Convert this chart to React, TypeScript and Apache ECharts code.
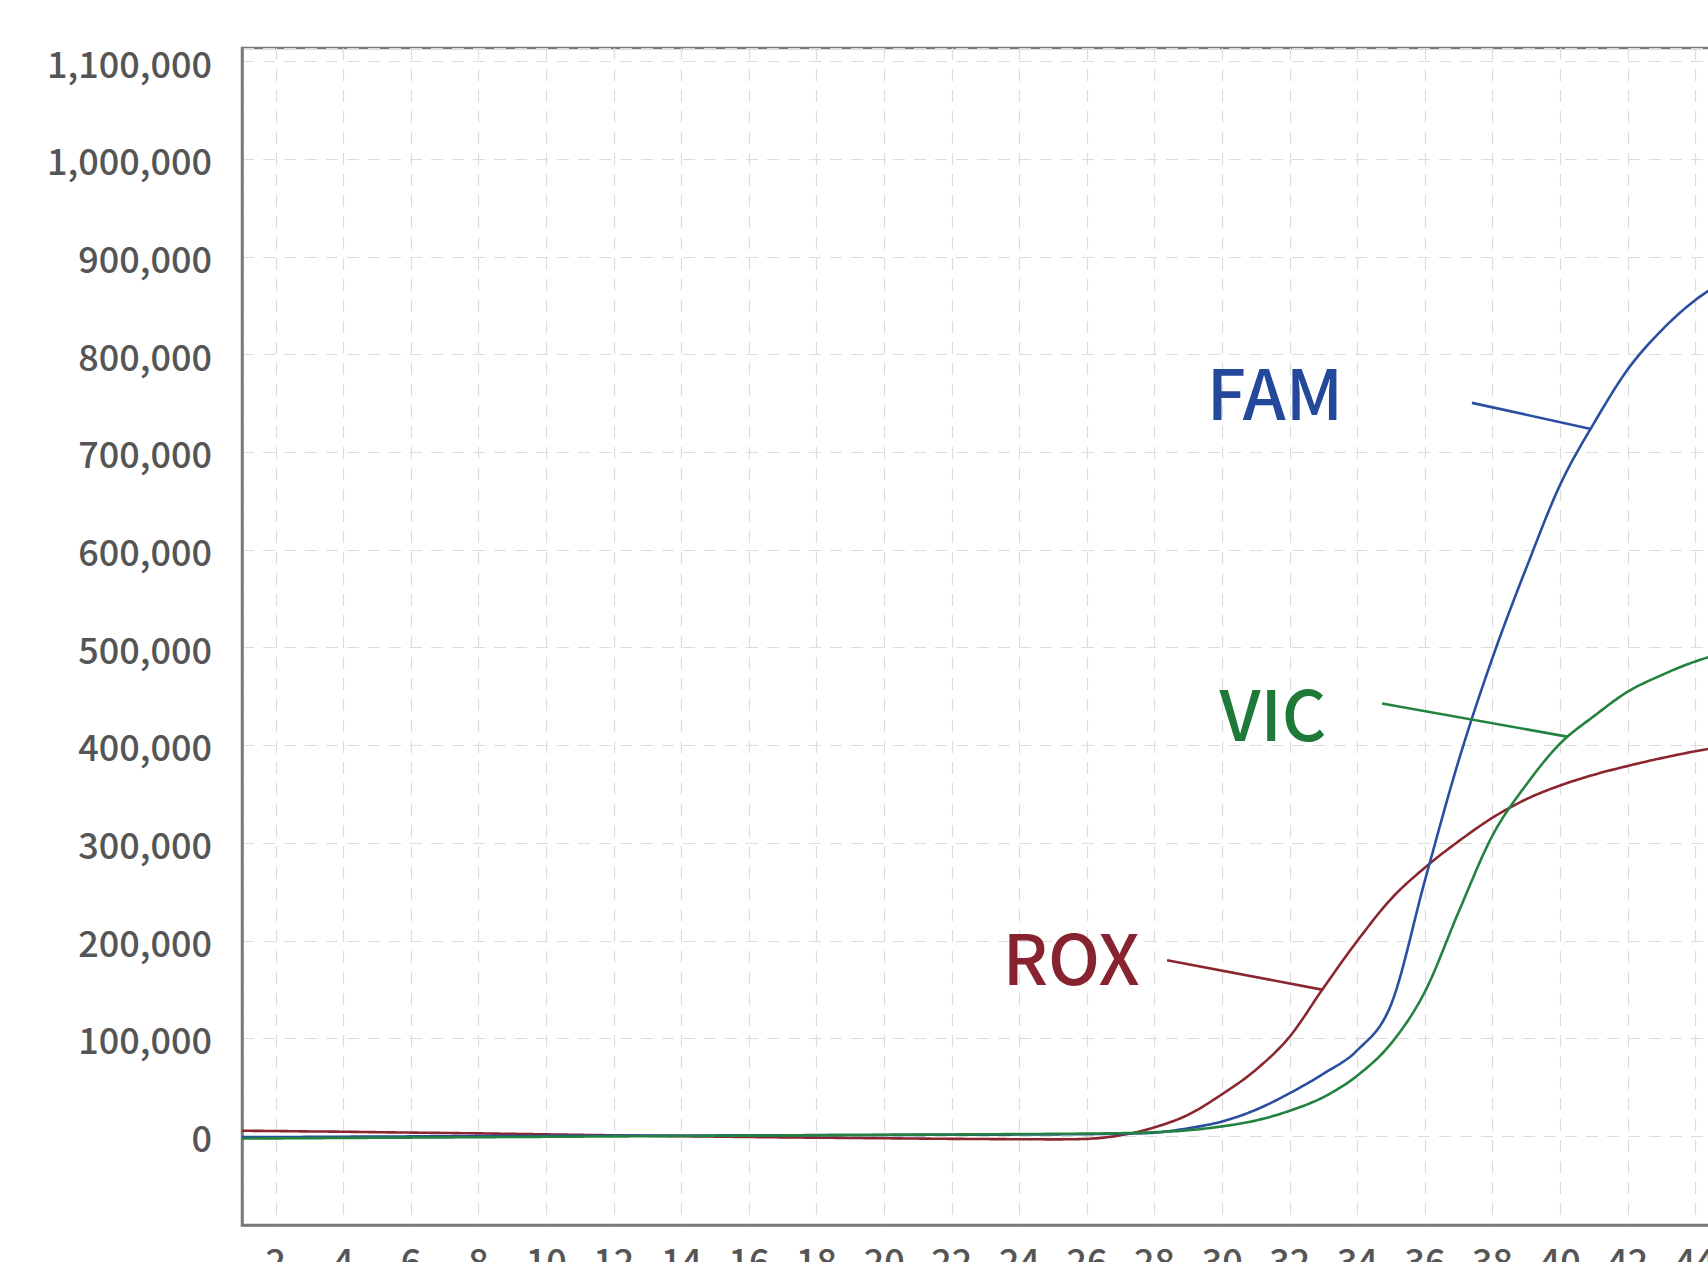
import React, { useEffect, useRef } from "react";
import * as echarts from "echarts";

// PCR cycle numbers
const cycles = [
  1, 2, 3, 4, 5, 6, 7, 8, 9, 10, 11, 12, 13, 14, 15, 16, 17, 18, 19, 20, 21, 22, 23,
  24, 25, 26, 27, 28, 29, 30, 31, 32, 33, 34, 35, 36, 37, 38, 39, 40, 41, 42, 43, 44,
  45, 46,
];

// Fluorescence values
const famValues = [
  -1000, -900, -800, -600, -500, -300, -200, 0, 100, 200, 300, 450, 500, 600, 700, 800,
  900, 1000, 1100, 1200, 1300, 1400, 1500, 1600, 1800, 2000, 2500, 3500, 8000, 15000,
  27000, 44000, 64000, 88000, 135000, 262000, 385000, 490000, 582000, 667000, 730000,
  785000, 825000, 856000, 878000, 895000,
];
const vicValues = [
  -2500, -2300, -2100, -1900, -1700, -1500, -1300, -1100, -900, -700, -500, -300, -100,
  100, 300, 500, 700, 900, 1100, 1300, 1500, 1700, 1900, 2100, 2300, 2600, 3000, 4000,
  6000, 10000, 16000, 26000, 40000, 62000, 95000, 148000, 230000, 308000, 360000,
  402000, 430000, 455000, 472000, 486000, 496000, 503000,
];
const roxValues = [
  5500, 5200, 4800, 4500, 4000, 3600, 3200, 2800, 2300, 1800, 1300, 800, 300, -100,
  -500, -900, -1300, -1600, -1900, -2200, -2500, -2800, -3000, -3200, -3300, -2800, 800,
  9000, 22000, 43000, 68000, 102000, 152000, 200000, 243000, 275000, 302000, 326000,
  345000, 359000, 370000, 379000, 387000, 394000, 400000, 406000,
];

const seriesNames = ["ROX", "FAM", "VIC"];
const seriesColors = ["#8b2631", "#2a4f9f", "#23823f"];
const labelColors = ["#872330", "#24499a", "#1f7a3a"];

// annotation label anchors [cycle, value] and leader lines [[c1, v1], [c2, v2]]
const labelAnchors = [
  [25.53, 185000],
  [31.56, 764000],
  [31.5, 435000],
];
const leaderLines = [
  [[28.37, 180000], [32.95, 150000]],
  [[37.39, 750700], [40.91, 724000]],
  [[34.73, 443000], [40.2, 409000]],
];

const X_MIN = 1;
const X_MAX = 46;
const Y_MIN = -91000;
const Y_MAX = 1114000;

const FONT = "'Noto Sans CJK JP', 'Noto Sans', sans-serif";
const FRAME = "#787878";

// Monotone cubic (Fritsch–Carlson) rendering of the polyline through the data points
function monotoneCurve(xs: number[], ys: number[], steps: number): number[][] {
  const n = xs.length;
  const d: number[] = [];
  for (let i = 0; i < n - 1; i++) d.push((ys[i + 1] - ys[i]) / (xs[i + 1] - xs[i]));
  const m: number[] = new Array(n).fill(0);
  m[0] = d[0];
  m[n - 1] = d[n - 2];
  for (let i = 1; i < n - 1; i++) {
    m[i] = d[i - 1] * d[i] <= 0 ? 0 : (d[i - 1] + d[i]) / 2;
  }
  for (let i = 0; i < n - 1; i++) {
    if (d[i] === 0) {
      m[i] = 0;
      m[i + 1] = 0;
      continue;
    }
    const a = m[i] / d[i];
    const b = m[i + 1] / d[i];
    const s = a * a + b * b;
    if (s > 9) {
      const t = 3 / Math.sqrt(s);
      m[i] = t * a * d[i];
      m[i + 1] = t * b * d[i];
    }
  }
  const out: number[][] = [];
  for (let i = 0; i < n - 1; i++) {
    const h = xs[i + 1] - xs[i];
    for (let k = 0; k < steps; k++) {
      const t = k / steps;
      const t2 = t * t;
      const t3 = t2 * t;
      const h00 = 2 * t3 - 3 * t2 + 1;
      const h10 = t3 - 2 * t2 + t;
      const h01 = -2 * t3 + 3 * t2;
      const h11 = t3 - t2;
      out.push([
        xs[i] + t * h,
        h00 * ys[i] + h10 * h * m[i] + h01 * ys[i + 1] + h11 * h * m[i + 1],
      ]);
    }
  }
  out.push([xs[n - 1], ys[n - 1]]);
  return out;
}

export default function App() {
  const ref = useRef<HTMLDivElement>(null);

  useEffect(() => {
    if (!ref.current) return;
    const chart = echarts.init(ref.current, undefined, { renderer: "svg" });
    const valueSets = [roxValues, famValues, vicValues];

    const series = seriesNames.map((name, i) => {
      const curve = monotoneCurve(cycles, valueSets[i], 12);
      return {
        name,
        type: "custom",
        coordinateSystem: "cartesian2d",
        data: cycles.map((c, k) => [c, valueSets[i][k]]),
        encode: { x: 0, y: 1 },
        clip: false,
        z: 3,
        silent: true,
        renderItem: (params: any, api: any) => {
          if (params.dataIndex !== 0) return { type: "group", children: [] };
          const pts = curve.map((p) => api.coord(p));
          return {
            type: "polyline",
            shape: { points: pts },
            style: {
              stroke: seriesColors[i],
              lineWidth: 2.6,
              fill: "none",
              lineJoin: "round",
            },
          };
        },
        markLine: {
          silent: true,
          symbol: ["none", "none"],
          label: { show: false },
          lineStyle: { color: seriesColors[i], width: 2.6, type: "solid" },
          data: [
            [
              { coord: leaderLines[i][0] },
              { coord: leaderLines[i][1] },
            ],
          ],
        },
        markPoint: {
          silent: true,
          symbol: "circle",
          symbolSize: 0,
          label: {
            show: true,
            position: "inside",
            formatter: name,
            fontSize: 69,
            fontWeight: 500,
            fontFamily: FONT,
            color: labelColors[i],
          },
          data: [{ coord: labelAnchors[i], value: name }],
        },
      };
    });

    chart.setOption({
      animation: false,
      backgroundColor: "#ffffff",
      textStyle: { fontFamily: FONT },
      grid: {
        left: 242,
        top: 48,
        width: 1521,
        height: 1177,
        show: true,
        borderColor: FRAME,
        borderWidth: 2.5,
        backgroundColor: "transparent",
        containLabel: false,
        outerBoundsMode: "none",
      },
      xAxis: {
        type: "value",
        min: X_MIN,
        max: X_MAX,
        minInterval: 2,
        maxInterval: 2,
        axisLine: { show: true, onZero: false, lineStyle: { color: FRAME, width: 2.5 } },
        axisTick: { show: false },
        axisLabel: {
          show: true,
          showMinLabel: false,
          showMaxLabel: false,
          margin: 16,
          fontSize: 36,
          fontWeight: 500,
          color: "#555555",
          fontFamily: FONT,
        },
        splitLine: {
          show: true,
          lineStyle: { color: "#dcdcdc", width: 1.2, type: [12, 9] },
        },
      },
      yAxis: {
        type: "value",
        min: Y_MIN,
        max: Y_MAX,
        minInterval: 100000,
        maxInterval: 100000,
        axisLine: { show: true, onZero: false, lineStyle: { color: FRAME, width: 2.5 } },
        axisTick: { show: false },
        axisLabel: {
          show: true,
          showMinLabel: false,
          showMaxLabel: false,
          margin: 30,
          fontSize: 36,
          fontWeight: 500,
          color: "#555555",
          fontFamily: FONT,
          formatter: (v: number) => Math.round(v).toLocaleString("en-US"),
        },
        splitLine: {
          show: true,
          lineStyle: { color: "#dcdcdc", width: 1.2, type: [12, 9] },
        },
      },
      series,
    });

    return () => chart.dispose();
  }, []);

  return (
    <div
      style={{
        position: "fixed",
        left: 0,
        top: 0,
        width: 1708,
        height: 1262,
        overflow: "hidden",
        background: "#ffffff",
      }}
    >
      <div ref={ref} style={{ width: 1800, height: 1320 }} />
    </div>
  );
}
